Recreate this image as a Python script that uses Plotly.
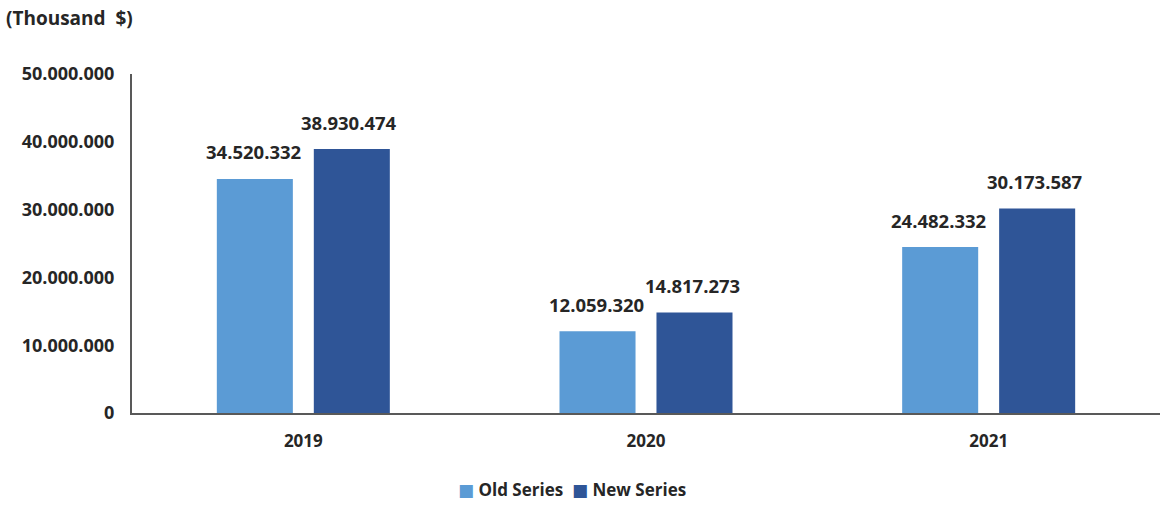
import plotly.graph_objects as go

years = ["2019", "2020", "2021"]
old_series = [34520332, 12059320, 24482332]
new_series = [38930474, 14817273, 30173587]
y_ticks = [0, 10000000, 20000000, 30000000, 40000000, 50000000]

OLD_COLOR = "#5B9BD5"
NEW_COLOR = "#2F5597"
TEXT_COLOR = "#262626"
FONT = "Open Sans"


def fmt(v):
    return f"{v:,}".replace(",", ".")


fig = go.Figure()
fig.add_trace(go.Bar(name="Old Series", x=years, y=old_series,
                     marker=dict(color=OLD_COLOR, line=dict(width=0))))
fig.add_trace(go.Bar(name="New Series", x=years, y=new_series,
                     marker=dict(color=NEW_COLOR, line=dict(width=0))))

# value labels above each bar (category index used as x position)
for vals, shift in ((old_series, -48), (new_series, 48)):
    for i, v in enumerate(vals):
        fig.add_annotation(x=i, y=v, xref="x", yref="y", text=fmt(v),
                           showarrow=False, xshift=shift - 2, yshift=27,
                           font=dict(family=FONT, size=18.5, color=TEXT_COLOR,
                                     weight="bold"))

fig.add_annotation(text="(Thousand&nbsp;&nbsp;$)", xref="paper", yref="paper",
                   x=-0.1245, y=1.165, xanchor="left", yanchor="middle",
                   showarrow=False,
                   font=dict(family=FONT, size=19, color=TEXT_COLOR, weight="bold"))

# legend row: coloured squares followed by series names
sq = '<span style="font-family:DejaVu Sans;font-size:17px;color:{}">■</span>'
legend_text = (sq.format(OLD_COLOR) + " Old Series  " +
               sq.format(NEW_COLOR) + " New Series")
fig.add_annotation(text=legend_text, xref="paper", yref="paper",
                   x=0.428, y=-0.227, xanchor="center", yanchor="middle",
                   showarrow=False,
                   font=dict(family=FONT, size=17, color=TEXT_COLOR, weight="bold"))

fig.update_layout(
    width=1160, height=505,
    margin=dict(l=132, r=0, t=74, b=92),
    paper_bgcolor="white", plot_bgcolor="white",
    barmode="group", bargap=0.434, bargroupgap=0.216,
    font=dict(family=FONT, size=14, color=TEXT_COLOR),
    showlegend=False,
    xaxis=dict(type="category", showline=True, linecolor="#595959", linewidth=2,
               showgrid=False, ticks="", ticklabelstandoff=12,
               tickfont=dict(family=FONT, size=17, weight="bold")),
    yaxis=dict(range=[0, 50000000], tickvals=y_ticks,
               ticktext=[fmt(v) for v in y_ticks],
               showline=True, linecolor="#595959", linewidth=2,
               showgrid=False, zeroline=False, ticks="",
               ticklabelstandoff=12,
               tickfont=dict(family=FONT, size=18, weight="bold")),
)

fig.write_html("out.html")
